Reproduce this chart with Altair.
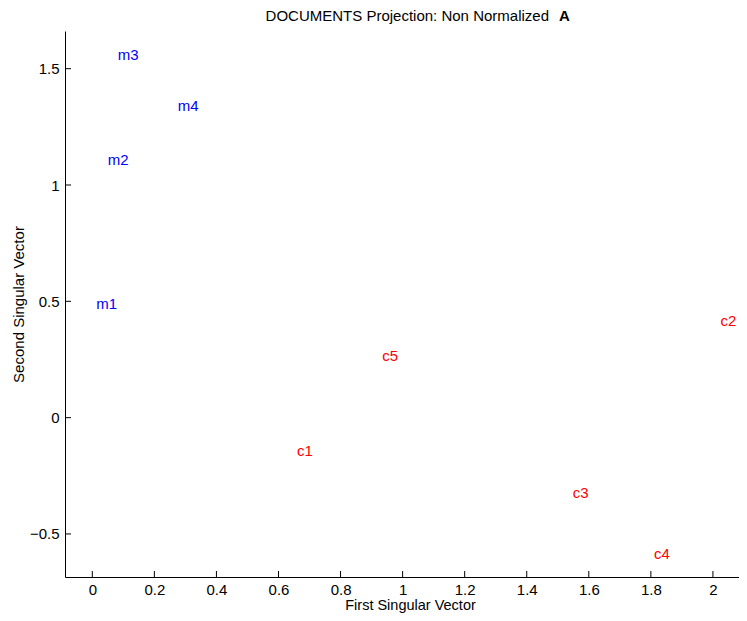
import altair as alt
import pandas as pd

# ---- data ----
labels = ["m1", "m2", "m3", "m4", "c1", "c2", "c3", "c4", "c5"]
first_sv = [0.013, 0.050, 0.082, 0.275, 0.660, 2.024, 1.548, 1.810, 0.934]
second_sv = [0.488, 1.109, 1.559, 1.340, -0.143, 0.417, -0.325, -0.587, 0.267]
groups = ["m", "m", "m", "m", "c", "c", "c", "c", "c"]

x_ticks = [0, 0.2, 0.4, 0.6, 0.8, 1.0, 1.2, 1.4, 1.6, 1.8, 2.0]
y_ticks = [-0.5, 0, 0.5, 1, 1.5]
x_domain = [-0.088, 2.084]
y_domain = [-0.685, 1.662]

title_main = "DOCUMENTS Projection: Non Normalized"
title_bold = "A"

FONT = "Liberation Sans"
W, H = 674, 546

df = pd.DataFrame({"x": first_sv, "y": second_sv, "label": labels, "group": groups})
xscale = alt.Scale(domain=x_domain, nice=False, zero=False)
yscale = alt.Scale(domain=y_domain, nice=False, zero=False)

x_axis = alt.Axis(
    values=x_ticks, format="~g", ticks=False, tickSize=0, grid=False,
    domainColor="black", domainWidth=1, labelColor="black", labelFont=FONT,
    labelFontSize=15, labelPadding=5, labelFlush=False, labelOverlap=False,
    title="First Singular Vector", titleFont=FONT, titleFontSize=14.5,
    titleFontWeight="normal", titleColor="black", titleX=345, titleY=28.5,
    titleBaseline="middle", titleAlign="center")
y_axis = alt.Axis(
    values=y_ticks, format="~g", ticks=False, tickSize=0, grid=False,
    domainColor="black", domainWidth=1, labelColor="black", labelFont=FONT,
    labelFontSize=15, labelPadding=6, labelFlush=False, labelOverlap=False,
    title="Second Singular Vector", titleFont=FONT, titleFontSize=15,
    titleFontWeight="normal", titleColor="black", titleX=-47, titleY=H / 2,
    titleAngle=270, titleBaseline="middle", titleAlign="center")

points = alt.Chart(df).mark_text(
    align="left", baseline="middle", font=FONT, fontSize=15
).encode(
    x=alt.X("x:Q", scale=xscale, axis=x_axis),
    y=alt.Y("y:Q", scale=yscale, axis=y_axis),
    text="label:N",
    color=alt.Color("group:N", scale=alt.Scale(domain=["m", "c"], range=["#0000ff", "#ff0000"]), legend=None),
)

xt = alt.Chart(pd.DataFrame({"t": x_ticks})).mark_rule(color="black", strokeWidth=1).encode(
    x=alt.X("t:Q", scale=xscale, axis=x_axis), y=alt.value(H), y2=alt.value(H - 6)
)
yt = alt.Chart(pd.DataFrame({"t": y_ticks})).mark_rule(color="black", strokeWidth=1).encode(
    y=alt.Y("t:Q", scale=yscale, axis=y_axis), x=alt.value(0), x2=alt.value(6)
)

t1 = alt.Chart(alt.Data(values=[{}])).mark_text(
    align="right", baseline="middle", font=FONT, fontSize=15, color="black"
).encode(x=alt.value(484), y=alt.value(-15), text=alt.value(title_main))
t2 = alt.Chart(alt.Data(values=[{}])).mark_text(
    align="left", baseline="middle", font=FONT, fontSize=15, fontWeight="bold", color="black"
).encode(x=alt.value(494), y=alt.value(-15), text=alt.value(title_bold))

chart = alt.layer(points, xt, yt, t1, t2).properties(
    width=W, height=H,
    background="white",
    autosize=alt.AutoSizeParams(type="none"),
    padding={"left": 57, "top": 23, "right": 0, "bottom": 36},
).configure_view(stroke="transparent", strokeWidth=0)

chart.save("out.html", embed_options={"renderer": "svg", "actions": False})
